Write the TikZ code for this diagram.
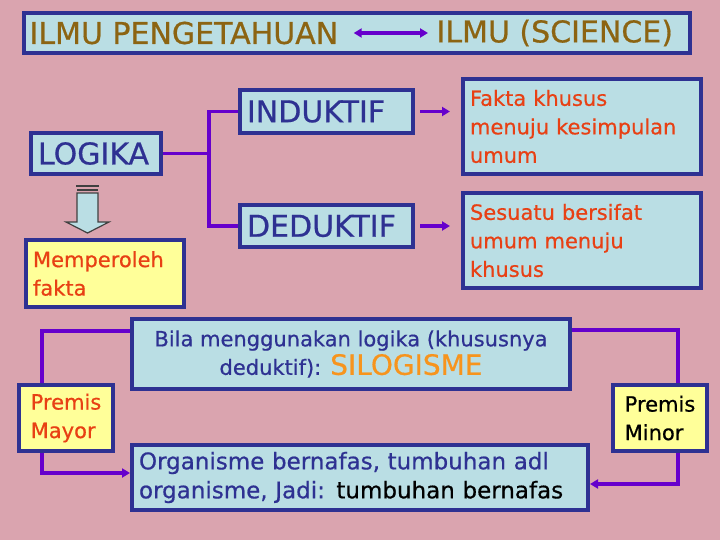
\documentclass[tikz,border=0pt]{standalone}
\usepackage{fontspec}
\setmainfont{DejaVu Sans}[FakeBold=0.6]
\usetikzlibrary{positioning, arrows.meta}

\definecolor{bgpink}{RGB}{218,164,175}
\definecolor{boxblue}{RGB}{186,222,228}
\definecolor{edgeblue}{RGB}{46,49,146}
\definecolor{noteyellow}{RGB}{255,255,153}
\definecolor{linkpurple}{RGB}{102,0,204}
\definecolor{goldtext}{RGB}{140,100,18}
\definecolor{redtext}{RGB}{232,64,20}
\definecolor{silotext}{RGB}{247,148,29}

\begin{document}
\begin{tikzpicture}[
    x=1pt, y=-1pt,
    box/.style={draw=edgeblue, line width=4pt, fill=boxblue, inner xsep=7pt, align=left},
    note/.style={draw=edgeblue, line width=4pt, fill=noteyellow, inner xsep=7pt, align=left},
    link/.style={draw=linkpurple, line width=3.5pt},
    arrowed/.style={-{Triangle[length=8pt,width=9pt]}},
    big/.style={font=\fontsize{30}{34}\selectfont},
    body/.style={font=\fontsize{21}{28.5}\selectfont}
  ]

  % background
  \fill[bgpink] (0,0) rectangle (720,540);

  % ── title bar ──
  \node[box, minimum width=666pt, minimum height=40pt] (bar) at (357,33) {};
  \node[big, text=goldtext, anchor=west] (pengetahuan) at (26,33) {ILMU PENGETAHUAN};
  \node[big, text=goldtext, anchor=west] (science) at (433,33) {ILMU (SCIENCE)};
  \draw[link, {Triangle[length=8pt,width=9pt]}-{Triangle[length=8pt,width=9pt]}, shorten <=12pt, shorten >=5pt]
    (pengetahuan.east) -- (science.west);

  % ── logika ──
  \node[box, big, text=edgeblue, text width=116pt, minimum height=41pt] (logika) at (96,153.5) {LOGIKA};
  \node[box, big, text=edgeblue, text width=159pt, minimum height=43pt] (induktif) at (326.5,111.5) {INDUKTIF};
  \node[box, big, text=edgeblue, text width=159pt, minimum height=42pt] (deduktif) at (326.5,226) {DEDUKTIF};
  \coordinate (fork) at (209,153.5);
  \draw[link] (logika.east) -- (fork);
  \draw[link] (induktif.west) -| (fork) |- (deduktif.west);

  % hollow arrow down
  \draw[fill=boxblue, draw=black!75, line width=1.2pt]
    (77,193) -- (77,222) -- (66,222) -- (87.5,233) -- (109,222) -- (98,222) -- (98,193) -- cycle;
  \draw[black!75, line width=1.6pt] (76,186) -- (99,186);
  \draw[black!75, line width=1.2pt] (77,190) -- (98,190);
  \node[note, body, text=redtext, text width=144pt, minimum height=67pt] (peroleh) at (105,273.5) {Memperoleh\\fakta};

  % ── meaning ──
  \node[box, body, text=redtext, text width=224pt, minimum height=95pt] (fakta) at (582,126.5) {Fakta khusus\\menuju kesimpulan\\umum};
  \node[box, body, text=redtext, text width=224pt, minimum height=95pt] (sesuatu) at (582,240.5) {Sesuatu bersifat\\umum menuju\\khusus};
  \draw[link, arrowed, shorten <=5pt, shorten >=11pt] (induktif.east) -- (induktif.east -| fakta.west);
  \draw[link, arrowed, shorten <=5pt, shorten >=11pt] (deduktif.east) -- (deduktif.east -| sesuatu.west);

  % ── silogisme ──
  \node[box, body, text=edgeblue, align=center, minimum width=438pt, minimum height=70pt] (silogisme) at (351,354)
    {Bila menggunakan logika (khususnya\\deduktif): {\fontsize{28}{28.5}\selectfont\color{silotext}SILOGISME}};
  \node[box, font=\fontsize{23}{29}\selectfont, text=edgeblue, text width=442pt, minimum height=65pt] (contoh) at (360,477.5)
    {Organisme bernafas, tumbuhan adl\\organisme, Jadi: \textcolor{black}{tumbuhan bernafas}};
  \node[note, body, text=redtext, inner xsep=6pt, minimum width=94pt, minimum height=66pt] (mayor) at (66,418) {Premis\\Mayor};
  \node[note, body, text=black, inner xsep=6pt, minimum width=94pt, minimum height=66pt] (minor) at (660,418) {Premis\\Minor};

  \draw[link] ([yshift=23pt]silogisme.west) -| ([xshift=-24pt]mayor.north);
  \draw[link, arrowed] ([xshift=-24pt]mayor.south) |- ([yshift=4.5pt]contoh.west);
  \draw[link] ([yshift=24pt]silogisme.east) -| ([xshift=18pt]minor.north);
  \draw[link, arrowed] ([xshift=18pt]minor.south) |- ([yshift=-6.5pt]contoh.east);

\end{tikzpicture}
\end{document}
